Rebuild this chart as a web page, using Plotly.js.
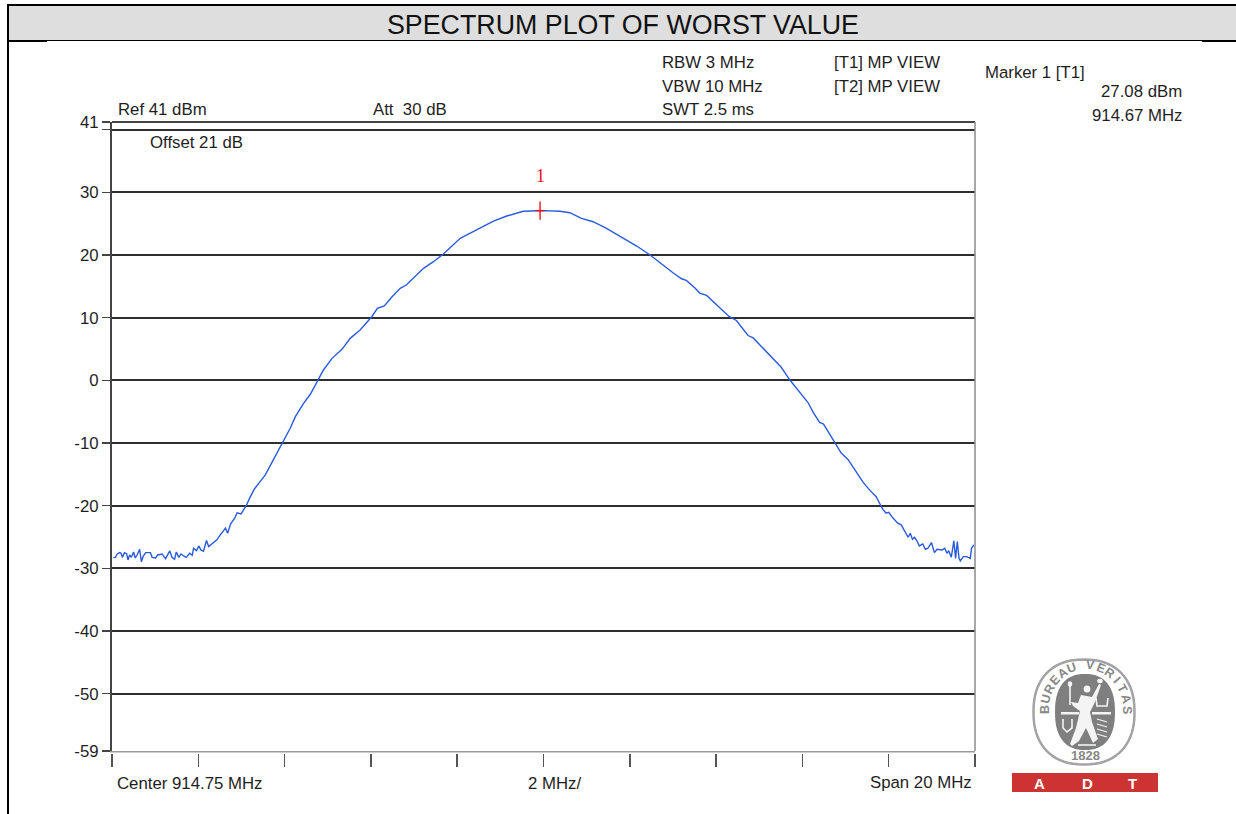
<!DOCTYPE html>
<html><head><meta charset="utf-8">
<script src="https://cdn.plot.ly/plotly-3.0.1.min.js"></script>
<style>html,body{margin:0;padding:0;background:#fff;overflow:hidden}#c{width:1236px;height:814px}</style>
</head><body><div id="c"></div>
<script>
const startMHz = 904.75;
const freqOffsetMHz = [0.03,0.08,0.12,0.18,0.21,0.24,0.29,0.34,0.37,0.41,0.45,0.50,0.54,0.58,0.64,0.68,0.72,0.78,0.89,0.93,1.01,1.06,1.16,1.24,1.34,1.39,1.45,1.49,1.55,1.60,1.66,1.72,1.80,1.86,1.89,1.96,2.01,2.06,2.12,2.19,2.24,2.32,2.43,2.51,2.57,2.63,2.68,2.75,2.84,2.90,2.99,3.11,3.19,3.30,3.40,3.55,3.67,3.79,3.90,3.98,4.13,4.25,4.44,4.60,4.79,4.90,5.10,5.33,5.52,5.75,6.02,6.15,6.31,6.49,6.68,6.82,7.22,7.45,7.68,8.07,8.37,8.84,9.15,9.53,9.88,10.03,10.38,10.61,10.88,11.15,11.46,11.77,12.16,12.47,12.70,12.85,13.00,13.20,13.31,13.51,13.62,13.78,14.05,14.30,14.47,14.63,14.74,14.86,15.17,15.51,15.71,15.95,16.13,16.25,16.40,16.49,16.63,16.75,16.90,17.06,17.25,17.40,17.56,17.71,17.81,17.87,17.94,18.00,18.10,18.21,18.29,18.41,18.45,18.50,18.55,18.60,18.65,18.71,18.79,18.85,18.91,18.99,19.06,19.12,19.24,19.30,19.35,19.39,19.45,19.51,19.55,19.59,19.63,19.66,19.73,19.81,19.89,19.92,19.97];
const levelDbm = [-28.29,-28.24,-27.70,-27.49,-27.59,-28.24,-27.49,-27.65,-28.66,-27.86,-28.24,-27.38,-28.34,-27.91,-26.95,-28.93,-28.13,-27.49,-27.49,-28.24,-28.34,-27.86,-27.70,-28.45,-27.22,-28.24,-28.56,-27.38,-28.24,-27.70,-28.02,-28.24,-27.59,-27.91,-26.79,-27.17,-26.42,-27.06,-27.27,-25.56,-26.52,-26.10,-25.45,-24.65,-24.12,-23.58,-24.39,-22.89,-22.04,-21.15,-21.31,-20.00,-18.80,-17.33,-16.44,-15.13,-13.56,-11.99,-10.42,-9.36,-7.65,-5.80,-3.67,-2.18,0.16,1.65,3.51,4.95,6.70,8.03,10.15,11.49,11.86,13.34,14.68,15.21,17.87,18.93,20.15,22.66,23.71,25.42,26.22,26.97,27.06,27.08,26.97,26.75,25.85,25.31,24.26,23.03,21.43,20.00,18.72,17.97,17.17,16.21,15.95,14.72,13.92,13.55,11.79,10.19,9.55,8.21,7.15,6.77,4.48,2.08,0.05,-2.11,-3.54,-5.12,-6.70,-6.97,-8.55,-9.87,-11.61,-12.66,-14.62,-16.20,-17.52,-18.58,-19.89,-20.64,-21.18,-21.07,-21.98,-22.78,-23.05,-24.39,-25.03,-24.39,-25.35,-25.03,-25.56,-26.42,-26.10,-26.95,-26.79,-25.88,-27.49,-26.95,-27.06,-26.79,-27.59,-27.17,-28.24,-25.61,-28.40,-25.72,-28.40,-28.82,-28.13,-28.13,-28.40,-26.79,-26.26];
const markerMHz = [914.67];
const markerDbm = [27.08];
const yRange = [-59.14, 41.22];
const yTickVals = [41.22,40,30,20,10,0,-10,-20,-30,-40,-50,-59.14];
const yTickText = ['41','','30','20','10','0','-10','-20','-30','-40','-50','-59'];
const xTickVals = [904.75,906.75,908.75,910.75,912.75,914.75,916.75,918.75,920.75,922.75,924.75];
const titleText = 'SPECTRUM PLOT OF WORST VALUE';
const logoRing = 'BUREAU VERITAS';

const W=1236,H=814,L=112,R=975,T=122,B=751;
const fx=x=>(x-L)/(R-L), fy=y=>(B-y)/(B-T);
const FONT='"Liberation Sans", Arial, sans-serif';
const INK='#1e1e1e';
const SZ=16.8;
function rect(x0,y0,x1,y1,fill,layer){return {type:'rect',xref:'paper',yref:'paper',x0:fx(x0),x1:fx(x1),y0:fy(y0),y1:fy(y1),fillcolor:fill,line:{width:0},layer:layer||'above'};}
function poly(pts,fill,open,lw){
  const d=pts.map((p,i)=>(i?'L':'M')+fx(p[0]).toFixed(5)+' '+fy(p[1]).toFixed(5)).join(' ')+(open?'':' Z');
  return {type:'path',xref:'paper',yref:'paper',path:d,fillcolor:open?'rgba(0,0,0,0)':fill,line:{color:fill,width:open?(lw||2):0},layer:'above'};
}
function ell(cx,cy,rx,ry,fill){return {type:'circle',xref:'paper',yref:'paper',x0:fx(cx-rx),x1:fx(cx+rx),y0:fy(cy+ry),y1:fy(cy-ry),fillcolor:fill,line:{width:0},layer:'above'};}
function squircle(cx,cy,rx,ry,n){
  const pts=[];
  for(let i=0;i<72;i++){const a=i/72*2*Math.PI,c=Math.cos(a),s=Math.sin(a);
    pts.push([cx+rx*Math.sign(c)*Math.pow(Math.abs(c),2/n),cy+ry*Math.sign(s)*Math.pow(Math.abs(s),2/n)]);}
  return pts;
}
function txt(s,x,y,anchor,size,color,extra){
  const a=anchor||'left', dx=a==='left'?-2:(a==='right'?2:0);
  return Object.assign({text:s,xref:'paper',yref:'paper',x:fx(x+dx),y:fy(y),xanchor:a,yanchor:'middle',showarrow:false,
    font:{family:FONT,size:size||SZ,color:color||INK}},extra||{});
}
const ringShape=Object.assign(poly(squircle(1084,712,50.5,52.5,2.3),'#fff'),{line:{color:'#a3a3a3',width:2.5}});
const shapes=[
  rect(8,5,W+2,40,'#dedede','below'),
  rect(7,4,W+2,6,'#000'),
  rect(7,4,9,H+2,'#000'),
  rect(47,40,1202,41,'#000'),
  rect(8,40,47,42,'#000'),
  rect(1202,40,W+2,42,'#000'),
  rect(L-2,752.5,R+3,754,'#fff'),
  {type:'line',xref:'paper',yref:'paper',x0:0,x1:1,y0:1,y1:1,line:{color:'#444',width:2},layer:'above'},
  {type:'line',xref:'paper',yref:'paper',x0:1,x1:1,y0:0,y1:1,line:{color:'#8c8c8c',width:1.5},layer:'above'},
  // logo
  ringShape,
  poly(squircle(1085,712,30,38,2.4),'#7f7f7f'),
  rect(1061,712,1079,714.5,'#f4f4f4'),
  rect(1092,712,1111,714.5,'#f4f4f4'),
  ell(1087,689,3.4,3.6,'#f4f4f4'),
  poly([[1081,695],[1092,697],[1099,684],[1101,685],[1095,702],[1090,712],[1092,722],[1098,739],[1093,743],[1086,728],[1079,741],[1072,746],[1070,744],[1076,728],[1080,711],[1073,706],[1071,702],[1078,703]],'#f4f4f4'),
  poly([[1070,685],[1070,705]],'#f4f4f4',true,1.6),
  ell(1070,684,2.2,2.8,'#f4f4f4'),
  ell(1100,681,2.8,2.2,'#f4f4f4'),
  poly([[1096,698],[1097,706],[1107,706],[1108,698]],'#f4f4f4',true,1.6),
  poly([[1063,719],[1063,728],[1067,732],[1072,728],[1072,719]],'#f4f4f4',true,1.6),
  poly([[1097,719],[1107,722]],'#f4f4f4',true,1.2),
  poly([[1097,724],[1107,727]],'#f4f4f4',true,1.2),
  poly([[1097,729],[1107,732]],'#f4f4f4',true,1.2),
  poly([[1097,734],[1107,737]],'#f4f4f4',true,1.2),
  poly([[1078,745],[1096,745]],'#f4f4f4',true,1.6),
  rect(1012,773,1158,792,'#cc3333')
];
const boldFont=(size,color)=>({font:{family:FONT,size:size,color:color,weight:700}});
const annotations=[
  txt(titleText,623,25,'center',26.8,'#111'),
  txt('RBW 3 MHz',662,62),txt('VBW 10 MHz',662,86),txt('SWT 2.5 ms',662,109),
  txt('[T1] MP VIEW',834,62),txt('[T2] MP VIEW',834,86),
  txt('Marker 1 [T1]',985,72),
  txt('27.08 dBm',1182,92,'right'),txt('914.67 MHz',1182,115,'right'),
  txt('Ref 41 dBm',118,110),txt('Att  30 dB',373,110),txt('Offset 21 dB',150,143),
  txt('Center 914.75 MHz',117,783),txt('2 MHz/',528,783),txt('Span 20 MHz',972,782,'right'),
  {text:'1',xref:'x',yref:'y',x:markerMHz[0],y:markerDbm[0],yshift:35,showarrow:false,
   font:{family:'"Liberation Serif", serif',size:18,color:'#ee1111'}},
  txt('A',1039,783,'center',15,'#fff',boldFont(15,'#fff')),
  txt('D',1087,783,'center',15,'#fff',boldFont(15,'#fff')),
  txt('T',1132,783,'center',15,'#fff',boldFont(15,'#fff')),
  txt('1828',1085,755,'center',13,'#888',boldFont(13,'#888'))
];
Array.from(logoRing).forEach((ch,i,a)=>{
  if(ch===' ')return;
  const t=Math.PI-Math.PI*i/(a.length-1);
  annotations.push(txt(ch,1086+41*Math.cos(t),710-45*Math.sin(t),'center',12.5,'#888',
    Object.assign({textangle:90-t*180/Math.PI},boldFont(12.5,'#888'))));
});
const traces=[
 {x:freqOffsetMHz.map(f=>startMHz+f),y:levelDbm,type:'scatter',mode:'lines',line:{color:'#2a5bdc',width:1.4},hoverinfo:'skip'},
 {x:markerMHz,y:markerDbm,type:'scatter',mode:'markers',marker:{symbol:'line-ns',size:13,line:{color:'#ee1111',width:1.4}},hoverinfo:'skip'},
 {x:markerMHz,y:markerDbm,type:'scatter',mode:'markers',marker:{symbol:'line-ew',size:6.5,line:{color:'#ee1111',width:1.4}},hoverinfo:'skip'}
];
const layout={
 width:W,height:H,showlegend:false,paper_bgcolor:'#fff',plot_bgcolor:'#fff',
 margin:{l:L,r:W-R,t:T,b:H-B,pad:0},
 font:{family:FONT,size:SZ,color:INK},
 xaxis:{range:[904.75,924.75],tickmode:'array',tickvals:xTickVals,ticktext:xTickVals.map(()=>''),ticks:'outside',ticklen:14,tickwidth:1.5,tickcolor:'#555',
   showgrid:false,zeroline:false,showline:true,linecolor:'#999',linewidth:2,mirror:false},
 yaxis:{range:yRange,tickmode:'array',tickvals:yTickVals,ticktext:yTickText,ticks:'outside',ticklen:8,tickwidth:1.5,tickcolor:'#444',
   tickfont:{family:FONT,size:SZ,color:INK},showgrid:true,gridcolor:'#2e2e2e',gridwidth:2,zeroline:false,showline:true,linecolor:'#444',linewidth:2},
 shapes:shapes,
 annotations:annotations
};
Plotly.newPlot('c',traces,layout,{displayModeBar:false,staticPlot:true});
</script></body></html>
